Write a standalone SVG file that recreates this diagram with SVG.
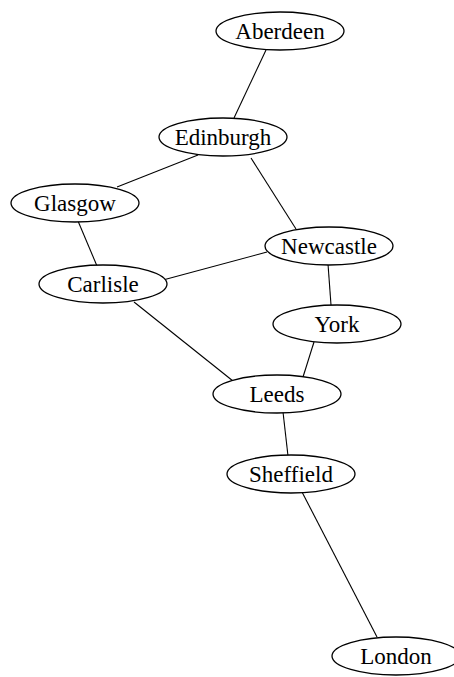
<svg xmlns="http://www.w3.org/2000/svg" width="454" height="677" viewBox="0 0 454 677">
<style>
.n ellipse{fill:#fff;stroke:#000;stroke-width:1.3}
.n text{font-family:"Liberation Serif","Times New Roman",serif;font-size:23px;text-anchor:middle;fill:#000}
#edges line{stroke:#000;stroke-width:1.1}
</style>
<rect width="454" height="677" fill="#fff"/>
<g id="edges">
<line x1="266" y1="50" x2="234" y2="118"/>
<line x1="198" y1="155" x2="117" y2="187"/>
<line x1="251" y1="158" x2="296" y2="229"/>
<line x1="78" y1="221" x2="97" y2="266"/>
<line x1="163" y1="280" x2="267" y2="252"/>
<line x1="134" y1="302" x2="233" y2="381"/>
<line x1="328" y1="264" x2="331" y2="305"/>
<line x1="314" y1="342" x2="303" y2="377"/>
<line x1="283" y1="412" x2="288" y2="456"/>
<line x1="302" y1="492" x2="377" y2="637"/>
</g>
<g id="Aberdeen" class="n"><ellipse cx="280" cy="31" rx="64" ry="19"/><text x="280" y="39">Aberdeen</text></g>
<g id="Edinburgh" class="n"><ellipse cx="223" cy="137" rx="64" ry="19"/><text x="223" y="145">Edinburgh</text></g>
<g id="Glasgow" class="n"><ellipse cx="75" cy="203" rx="64" ry="19"/><text x="75" y="211">Glasgow</text></g>
<g id="Newcastle" class="n"><ellipse cx="329" cy="246" rx="64" ry="19"/><text x="329" y="254">Newcastle</text></g>
<g id="Carlisle" class="n"><ellipse cx="103" cy="284" rx="64" ry="19"/><text x="103" y="292">Carlisle</text></g>
<g id="York" class="n"><ellipse cx="337" cy="324" rx="64" ry="19"/><text x="337" y="332">York</text></g>
<g id="Leeds" class="n"><ellipse cx="277" cy="394" rx="64" ry="19"/><text x="277" y="402">Leeds</text></g>
<g id="Sheffield" class="n"><ellipse cx="291" cy="474" rx="64" ry="19"/><text x="291" y="482">Sheffield</text></g>
<g id="London" class="n"><ellipse cx="396" cy="656" rx="64" ry="19"/><text x="396" y="664">London</text></g>
</svg>
